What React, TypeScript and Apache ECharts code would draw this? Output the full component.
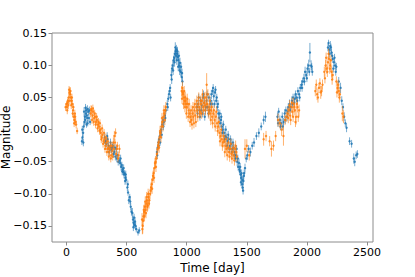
import React, { useEffect, useRef } from "react";
import * as echarts from "echarts";

// [day, magnitude, error]
const blueData: number[][] = [
  [128,-0.018,0.006],[133,-0.012,0.005],[138,-0.005,0.006],[143,0.005,0.005],[148,0.012,0.006],[152,0.02,0.005],[156,0.015,0.006],[160,0.025,0.005],[164,0.03,0.006],[168,0.022,0.005],[172,0.018,0.006],[176,0.01,0.005],[182,0.028,0.006],[190,0.03,0.006],[196,0.012,0.005],
  [131,0.0,0.006],[146,0.028,0.007],[158,0.034,0.006],[166,0.008,0.005],[174,0.032,0.006],[186,0.018,0.006],[140,-0.02,0.006],
  [318,-0.012,0.006],[326,-0.018,0.005],[334,-0.022,0.006],[342,-0.015,0.005],[350,-0.025,0.006],[358,-0.03,0.005],[366,-0.02,0.006],[374,-0.032,0.005],[382,-0.028,0.006],[390,-0.038,0.006],[398,-0.035,0.005],[406,-0.042,0.006],[414,-0.03,0.005],[422,-0.04,0.006],
  [322,-0.02,0.006],[338,-0.01,0.006],[354,-0.035,0.006],[370,-0.028,0.006],[386,-0.025,0.006],[402,-0.028,0.006],[418,-0.045,0.006],[430,-0.05,0.006],[450,-0.045,0.006],[463,-0.065,0.006],[475,-0.06,0.006],[487,-0.08,0.006],[493,-0.07,0.006],
  [440,-0.048,0.006],[447,-0.052,0.005],[454,-0.058,0.006],[460,-0.055,0.005],[466,-0.062,0.006],[472,-0.066,0.005],[478,-0.07,0.006],[484,-0.068,0.005],[490,-0.075,0.006],[496,-0.078,0.006],
  [506,-0.09,0.006],[512,-0.098,0.005],[518,-0.11,0.006],[526,-0.105,0.005],[534,-0.12,0.006],[540,-0.128,0.006],[510,-0.085,0.006],[530,-0.112,0.006],
  [548,-0.13,0.008],[553,-0.14,0.006],[558,-0.145,0.007],[562,-0.137,0.006],[566,-0.148,0.006],[570,-0.143,0.007],[580,-0.155,0.005],[595,-0.16,0.005],[605,-0.157,0.005],[556,-0.152,0.006],[575,-0.15,0.006],
  [752,-0.035,0.006],[758,-0.028,0.005],[764,-0.02,0.006],[770,-0.015,0.005],[776,-0.01,0.006],[782,-0.004,0.005],[788,0.0,0.006],
  [755,-0.04,0.006],[767,-0.025,0.005],[779,-0.02,0.005],[792,-0.008,0.006],[806,0.005,0.006],[822,0.018,0.006],[842,0.035,0.006],[862,0.065,0.006],
  [795,0.008,0.006],[802,0.015,0.005],[810,0.012,0.006],[818,0.022,0.005],[826,0.03,0.006],
  [838,0.04,0.006],[846,0.048,0.005],[852,0.055,0.006],[858,0.06,0.005],[866,0.05,0.006],
  [872,0.085,0.008],[878,0.095,0.007],[884,0.1,0.008],[890,0.108,0.007],[896,0.112,0.008],[902,0.118,0.007],[908,0.122,0.008],[914,0.125,0.007],[920,0.118,0.008],[926,0.113,0.007],[932,0.108,0.008],[938,0.1,0.007],[944,0.104,0.008],[950,0.09,0.007],[958,0.082,0.008],[965,0.075,0.007],
  [875,0.078,0.007],[887,0.092,0.007],[899,0.105,0.007],[905,0.128,0.008],[911,0.115,0.008],[917,0.108,0.007],[923,0.122,0.007],[929,0.098,0.007],[935,0.115,0.007],[941,0.092,0.007],[953,0.098,0.007],[961,0.088,0.007],
  [1085,0.035,0.007],[1095,0.04,0.006],[1105,0.03,0.007],[1115,0.045,0.006],[1125,0.038,0.007],[1135,0.05,0.006],[1145,0.042,0.007],[1155,0.03,0.006],[1165,0.045,0.007],[1175,0.035,0.006],[1185,0.05,0.007],[1195,0.04,0.006],[1205,0.055,0.007],[1215,0.06,0.006],[1225,0.052,0.007],[1235,0.058,0.006],[1245,0.045,0.007],[1255,0.035,0.006],[1263,0.025,0.007],[1270,0.018,0.006],[1278,0.01,0.007],[1285,0.015,0.006],[1292,0.005,0.007],[1300,0.0,0.006],[1310,-0.005,0.007],[1320,-0.01,0.006],
  [1090,0.025,0.007],[1100,0.05,0.006],[1110,0.02,0.006],[1120,0.03,0.006],[1130,0.025,0.006],[1140,0.055,0.006],[1150,0.02,0.006],[1160,0.035,0.006],[1170,0.055,0.006],[1180,0.025,0.006],[1190,0.03,0.006],[1200,0.045,0.006],[1210,0.04,0.006],[1220,0.065,0.006],[1230,0.04,0.006],[1240,0.062,0.006],[1250,0.05,0.006],[1260,0.04,0.006],[1275,0.025,0.006],[1288,0.02,0.006],[1296,-0.005,0.006],[1305,0.008,0.006],[1315,-0.015,0.006],[1325,0.0,0.006],
  [1330,-0.012,0.006],[1340,-0.018,0.007],[1350,-0.015,0.006],[1360,-0.025,0.007],[1370,-0.022,0.006],[1380,-0.03,0.007],[1390,-0.028,0.006],[1400,-0.035,0.007],[1410,-0.04,0.006],[1420,-0.05,0.007],[1428,-0.058,0.006],[1435,-0.052,0.007],[1442,-0.065,0.006],[1448,-0.07,0.007],[1454,-0.075,0.006],[1460,-0.085,0.007],[1466,-0.09,0.006],[1472,-0.08,0.007],[1478,-0.068,0.006],[1485,-0.06,0.007],
  [1335,-0.025,0.006],[1345,-0.008,0.006],[1355,-0.03,0.006],[1365,-0.015,0.006],[1375,-0.035,0.006],[1385,-0.02,0.006],[1395,-0.04,0.006],[1405,-0.045,0.006],[1415,-0.03,0.006],[1425,-0.045,0.006],[1438,-0.062,0.006],[1445,-0.058,0.006],[1451,-0.082,0.006],[1457,-0.068,0.006],[1463,-0.078,0.006],[1469,-0.095,0.006],[1475,-0.072,0.006],
  [1495,-0.045,0.006],[1505,-0.04,0.007],[1515,-0.03,0.006],[1530,-0.035,0.007],[1545,-0.025,0.006],[1560,-0.02,0.007],[1580,-0.01,0.006],[1600,-0.005,0.007],[1620,0.005,0.006],[1640,0.015,0.007],[1655,0.02,0.008],
  [1755,0.02,0.007],[1765,0.028,0.006],[1775,0.015,0.007],[1785,0.01,0.006],[1795,0.02,0.007],[1805,0.012,0.006],[1815,0.025,0.007],[1825,0.03,0.006],[1835,0.02,0.007],[1845,0.035,0.006],
  [1760,0.01,0.006],[1780,0.005,0.006],[1800,0.005,0.006],[1820,0.015,0.006],[1840,0.028,0.006],[1860,0.03,0.006],[1880,0.04,0.006],[1900,0.048,0.006],[1920,0.045,0.006],[1940,0.05,0.006],[1960,0.065,0.006],[1980,0.075,0.006],[2000,0.08,0.006],[2020,0.09,0.006],[2040,0.098,0.006],
  [1855,0.04,0.007],[1865,0.035,0.006],[1875,0.045,0.007],[1885,0.05,0.006],[1895,0.042,0.007],[1905,0.055,0.006],[1915,0.05,0.007],[1925,0.06,0.006],[1935,0.055,0.007],[1945,0.065,0.006],[1955,0.07,0.007],[1965,0.075,0.006],[1975,0.08,0.007],[1985,0.09,0.008],[1995,0.085,0.007],[2005,0.095,0.008],[2015,0.1,0.009],[2025,0.12,0.015],[2035,0.1,0.008],[2045,0.09,0.006],
  [2175,0.128,0.006],[2185,0.125,0.007],[2195,0.13,0.008],[2205,0.12,0.006],[2215,0.11,0.006],[2225,0.105,0.007],[2235,0.1,0.006],[2245,0.098,0.006],
  [2180,0.135,0.005],[2190,0.118,0.006],[2200,0.128,0.006],[2210,0.115,0.006],[2220,0.095,0.006],[2230,0.112,0.006],[2240,0.09,0.006],
  [2265,0.075,0.007],[2280,0.065,0.008],[2290,0.045,0.007],[2300,0.035,0.006],[2310,0.02,0.007],[2320,0.01,0.006],[2330,0.003,0.007],
  [2355,-0.018,0.006],[2372,-0.022,0.006],[2390,-0.045,0.008],[2398,-0.05,0.007],[2410,-0.04,0.006],[2420,-0.038,0.006],
];

const orangeData: number[][] = [
  [-8,0.035,0.006],[0,0.04,0.005],[6,0.03,0.006],[12,0.045,0.006],[18,0.05,0.007],[24,0.058,0.008],[30,0.055,0.006],[36,0.05,0.006],[42,0.045,0.007],[48,0.04,0.006],[54,0.03,0.007],[60,0.02,0.006],[66,0.015,0.008],[72,0.02,0.006],[80,0.008,0.006],[88,-0.002,0.005],
  [3,0.035,0.006],[9,0.042,0.006],[15,0.038,0.006],[21,0.062,0.006],[27,0.045,0.006],[33,0.06,0.006],[39,0.038,0.006],[45,0.05,0.006],[51,0.025,0.006],[57,0.035,0.006],[63,0.01,0.006],[69,0.025,0.006],[76,0.012,0.006],
  [200,0.025,0.006],[208,0.03,0.007],[215,0.022,0.006],[222,0.028,0.007],[230,0.018,0.006],[238,0.02,0.007],[246,0.012,0.006],[254,0.015,0.007],[262,0.008,0.006],[270,0.005,0.007],[278,0.01,0.006],
  [204,0.032,0.006],[212,0.015,0.006],[219,0.033,0.006],[226,0.012,0.006],[234,0.025,0.006],[242,0.008,0.006],[250,0.02,0.006],[258,0.002,0.006],[266,0.012,0.006],[274,-0.002,0.006],[282,0.0,0.006],
  [285,-0.005,0.007],[292,-0.012,0.006],[300,-0.008,0.007],[308,-0.018,0.006],[316,-0.015,0.007],[324,-0.025,0.006],[332,-0.02,0.007],[340,-0.03,0.006],[348,-0.028,0.007],[356,-0.035,0.006],[364,-0.025,0.007],[372,-0.04,0.006],[380,-0.033,0.007],[390,-0.02,0.008],[398,-0.01,0.008],[408,-0.005,0.007],[418,-0.03,0.007],[428,-0.045,0.006],[440,-0.03,0.007],
  [289,-0.015,0.006],[296,0.002,0.006],[304,-0.022,0.006],[312,-0.005,0.006],[320,-0.03,0.006],[328,-0.012,0.006],[336,-0.035,0.006],[344,-0.018,0.006],[352,-0.042,0.006],[360,-0.03,0.006],[368,-0.045,0.006],[376,-0.025,0.006],[384,-0.042,0.006],[394,-0.03,0.006],[403,-0.02,0.006],[413,-0.038,0.006],[423,-0.025,0.006],[434,-0.04,0.006],
  [628,-0.14,0.01],[634,-0.15,0.012],[640,-0.135,0.008],[646,-0.128,0.01],[652,-0.12,0.008],[658,-0.125,0.009],[664,-0.115,0.008],[670,-0.11,0.01],[676,-0.118,0.008],[682,-0.105,0.009],[690,-0.11,0.008],
  [631,-0.155,0.008],[637,-0.142,0.008],[643,-0.125,0.008],[649,-0.135,0.008],[655,-0.112,0.008],[661,-0.13,0.008],[667,-0.105,0.008],[673,-0.12,0.008],[679,-0.1,0.008],[686,-0.115,0.008],
  [700,-0.095,0.008],[708,-0.085,0.009],[716,-0.078,0.008],[724,-0.068,0.009],[732,-0.06,0.008],[740,-0.05,0.009],[748,-0.045,0.008],
  [695,-0.1,0.008],[704,-0.09,0.008],[712,-0.092,0.008],[720,-0.072,0.008],[728,-0.075,0.008],[736,-0.052,0.008],[744,-0.058,0.008],[752,-0.038,0.008],
  [758,-0.03,0.008],[766,-0.02,0.007],[774,-0.012,0.008],[782,-0.005,0.007],[790,0.005,0.008],[798,0.012,0.007],[806,0.02,0.008],[814,0.025,0.007],[822,0.03,0.008],
  [762,-0.025,0.008],[770,-0.028,0.008],[778,-0.002,0.008],[786,-0.012,0.008],[794,0.018,0.008],[802,0.005,0.008],[810,0.03,0.008],[818,0.015,0.008],[826,0.035,0.008],
  [958,0.06,0.008],[964,0.065,0.01],[970,0.055,0.008],[976,0.05,0.009],[982,0.045,0.008],[988,0.05,0.009],[994,0.04,0.008],[1000,0.035,0.009],[1008,0.04,0.008],[1016,0.03,0.009],[1024,0.025,0.008],[1032,0.02,0.009],[1040,0.015,0.008],[1048,0.025,0.009],[1056,0.02,0.008],[1064,0.03,0.009],[1072,0.022,0.008],[1080,0.035,0.009],[1088,0.03,0.008],[1096,0.04,0.009],[1104,0.035,0.008],[1112,0.028,0.009],[1120,0.04,0.008],[1128,0.045,0.009],[1136,0.035,0.008],[1144,0.042,0.009],[1152,0.038,0.008],[1160,0.05,0.009],[1166,0.07,0.018],[1172,0.04,0.008],[1180,0.03,0.009],[1188,0.035,0.008],[1196,0.025,0.009],[1204,0.03,0.008],[1212,0.02,0.009],
  [961,0.048,0.008],[967,0.058,0.008],[973,0.04,0.008],[979,0.06,0.008],[985,0.035,0.008],[991,0.045,0.008],[997,0.025,0.008],[1004,0.048,0.008],[1012,0.02,0.008],[1020,0.04,0.008],[1028,0.012,0.008],[1036,0.03,0.008],[1044,0.008,0.008],[1052,0.035,0.008],[1060,0.01,0.008],[1068,0.04,0.008],[1076,0.012,0.008],[1084,0.045,0.008],[1092,0.02,0.008],[1100,0.05,0.008],[1108,0.025,0.008],[1116,0.045,0.008],[1124,0.025,0.008],[1132,0.055,0.008],[1140,0.03,0.008],[1148,0.05,0.008],[1156,0.03,0.008],[1164,0.04,0.008],[1176,0.055,0.008],[1184,0.025,0.008],[1192,0.045,0.008],[1200,0.015,0.008],[1208,0.035,0.008],[1216,0.01,0.008],
  [1222,0.025,0.008],[1232,0.015,0.009],[1242,0.02,0.008],[1252,0.01,0.009],[1262,0.005,0.008],[1272,-0.005,0.009],[1282,-0.01,0.008],[1292,-0.015,0.009],[1302,-0.02,0.008],[1312,-0.018,0.009],[1322,-0.025,0.008],[1332,-0.03,0.009],[1342,-0.028,0.008],[1352,-0.035,0.009],[1362,-0.03,0.008],[1372,-0.038,0.009],[1382,-0.035,0.008],[1392,-0.04,0.009],[1402,-0.03,0.008],[1412,-0.035,0.009],
  [1227,0.03,0.008],[1237,0.005,0.008],[1247,0.028,0.008],[1257,-0.002,0.008],[1267,0.012,0.008],[1277,-0.018,0.008],[1287,0.0,0.008],[1297,-0.025,0.008],[1307,-0.01,0.008],[1317,-0.035,0.008],[1327,-0.015,0.008],[1337,-0.04,0.008],[1347,-0.02,0.008],[1357,-0.042,0.008],[1367,-0.022,0.008],[1377,-0.045,0.008],[1387,-0.028,0.008],[1397,-0.048,0.008],[1407,-0.025,0.008],[1417,-0.042,0.008],
  [1485,-0.03,0.015],[1500,-0.025,0.01],[1520,-0.04,0.008],
  [1640,-0.015,0.01],[1660,-0.01,0.008],
  [1690,-0.018,0.008],[1705,-0.03,0.012],[1722,-0.025,0.008],[1740,-0.01,0.008],[1760,0.015,0.01],
  [1775,0.01,0.008],[1790,0.0,0.01],[1805,-0.01,0.015],[1818,0.015,0.008],[1828,0.02,0.008],
  [1840,0.025,0.009],[1850,0.03,0.008],[1860,0.022,0.008],[1870,0.035,0.009],[1880,0.028,0.008],[1890,0.04,0.01],[1900,0.03,0.008],[1910,0.02,0.012],[1922,0.035,0.008],[1935,0.03,0.009],
  [1845,0.018,0.008],[1855,0.038,0.008],[1865,0.015,0.008],[1875,0.042,0.008],[1885,0.02,0.008],[1895,0.035,0.008],[1905,0.012,0.008],[1915,0.04,0.008],[1928,0.02,0.008],
  [2070,0.06,0.008],[2085,0.055,0.009],[2100,0.065,0.008],[2115,0.058,0.01],[2130,0.07,0.008],
  [2078,0.07,0.008],[2092,0.05,0.008],[2108,0.072,0.008],[2122,0.06,0.008],
  [2145,0.09,0.008],[2155,0.1,0.009],[2165,0.095,0.008],[2175,0.105,0.009],[2185,0.11,0.008],[2195,0.1,0.01],[2205,0.09,0.009],[2215,0.085,0.008],
  [2150,0.08,0.008],[2160,0.112,0.008],[2170,0.09,0.008],[2180,0.118,0.008],[2190,0.095,0.008],[2200,0.108,0.008],[2210,0.078,0.008],
  [2245,0.075,0.008],[2255,0.065,0.009],[2265,0.06,0.008],[2275,0.055,0.009],[2250,0.058,0.008],[2260,0.07,0.008],[2270,0.05,0.008],
  [2295,0.025,0.012],[2305,0.02,0.01],
];

const xTicks = [0, 500, 1000, 1500, 2000, 2500];
const yTicks = [-0.15, -0.1, -0.05, 0, 0.05, 0.1, 0.15];

const BLUE = "#1f77b4";
const ORANGE = "#ff7f0e";
const FONT = "DejaVu Sans";

function errSeries(name: string, data: number[][], color: string) {
  return {
    type: "custom",
    name,
    data,
    encode: { x: 0, y: 1 },
    clip: true,
    renderItem: (_params: any, api: any) => {
      const x = api.value(0);
      const y = api.value(1);
      const e = api.value(2);
      const top = api.coord([x, y + e]);
      const bot = api.coord([x, y - e]);
      const c = api.coord([x, y]);
      return {
        type: "group",
        children: [
          {
            type: "line",
            shape: { x1: top[0], y1: top[1], x2: bot[0], y2: bot[1] },
            style: { stroke: color, lineWidth: 1, opacity: 0.6 },
          },
          {
            type: "circle",
            shape: { cx: c[0], cy: c[1], r: 1.2 },
            style: { fill: color, opacity: 0.85 },
          },
        ],
      };
    },
  };
}

export default function App() {
  const ref = useRef<HTMLDivElement>(null);
  useEffect(() => {
    if (!ref.current) return;
    const chart = echarts.init(ref.current, undefined, { renderer: "svg" });
    const fmtY = (v: number) => {
      const s = (Math.abs(v) < 1e-9 ? 0 : v).toFixed(2);
      return s.replace("-", "\u2212");
    };
    chart.setOption({
      animation: false,
      backgroundColor: "#fff",
      textStyle: { fontFamily: FONT },
      grid: {
        left: 52,
        top: 33,
        right: 42,
        bottom: 35,
        show: true,
        borderColor: "#8c8c8c",
        borderWidth: 1,
        containLabel: false,
        outerBoundsMode: "none",
      },
      xAxis: {
        type: "value",
        min: -121,
        max: 2550,
        name: "Time [day]",
        nameLocation: "middle",
        nameGap: 20,
        nameMoveOverlap: false,
        nameTextStyle: { fontFamily: FONT, fontSize: 12, color: "#000" },
        axisLine: { show: false, onZero: false },
        splitLine: { show: false },
        axisTick: {
          show: true,
          length: 3.5,
          inside: false,
          customValues: xTicks,
          lineStyle: { color: "#8c8c8c", width: 1 },
        },
        axisLabel: {
          customValues: xTicks,
          margin: 5,
          fontFamily: FONT,
          fontSize: 11,
          color: "#000",
          formatter: (v: number) => String(v),
        },
      },
      yAxis: {
        type: "value",
        min: -0.175,
        max: 0.1505,
        name: "Magnitude",
        nameLocation: "middle",
        nameGap: 40,
        nameRotate: 90,
        nameMoveOverlap: false,
        nameTextStyle: { fontFamily: FONT, fontSize: 12, color: "#000" },
        axisLine: { show: false, onZero: false },
        splitLine: { show: false },
        axisTick: {
          show: true,
          length: 3.5,
          inside: false,
          customValues: yTicks,
          lineStyle: { color: "#8c8c8c", width: 1 },
        },
        axisLabel: {
          customValues: yTicks,
          margin: 5,
          fontFamily: FONT,
          fontSize: 11,
          color: "#000",
          formatter: fmtY,
        },
      },
      series: [errSeries("blue", blueData, BLUE), errSeries("orange", orangeData, ORANGE)],
    });
    return () => chart.dispose();
  }, []);
  return (
    <div
      ref={ref}
      style={{ position: "fixed", left: 0, top: 0, width: 415, height: 277, background: "#fff" }}
    />
  );
}
